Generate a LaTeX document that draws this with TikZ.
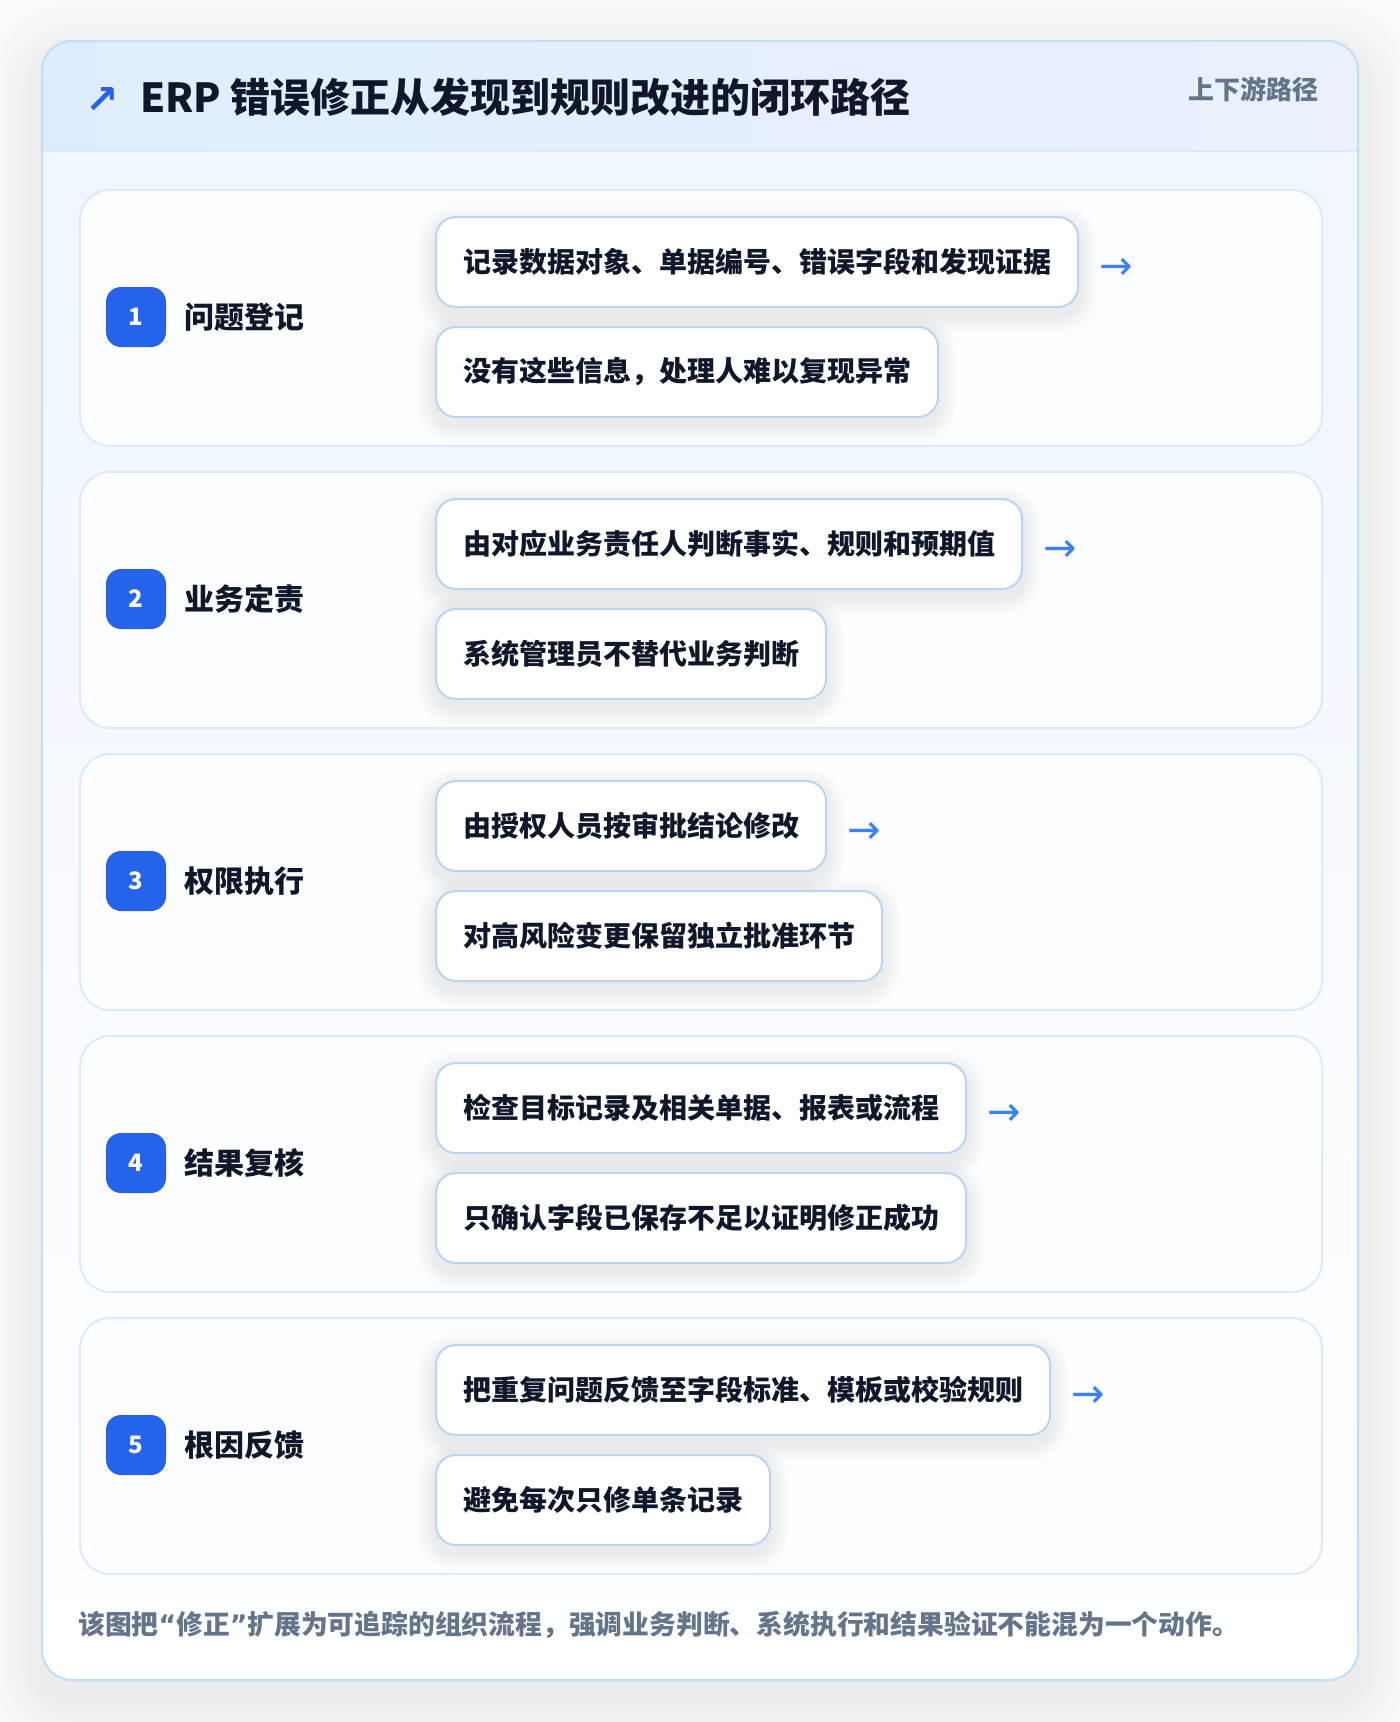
\documentclass[tikz,border=0pt]{standalone}
\usepackage{fontspec}
\setmainfont{Noto Sans CJK SC}
\newfontfamily\symf{DejaVu Sans}
\definecolor{ink}{RGB}{15,23,42}
\definecolor{muted}{RGB}{100,116,139}
\definecolor{brand}{RGB}{37,99,235}
\definecolor{arrowc}{RGB}{59,130,246}
\definecolor{outerbd}{RGB}{191,224,248}
\definecolor{cardbd}{RGB}{219,234,254}
\definecolor{boxbd}{RGB}{188,212,244}
\definecolor{headL}{RGB}{222,237,253}
\definecolor{headR}{RGB}{234,241,253}
\definecolor{bodytop}{RGB}{239,246,255}
\definecolor{cardfill}{RGB}{252,253,255}
\definecolor{pagebg}{RGB}{252,252,253}
\pgfdeclarelayer{bg}
\pgfdeclarelayer{shadow}
\pgfsetlayers{bg,shadow,main}
% soft shadow under a named node: #1 node, #2 corner radius, #3 drop, #4 steps, #5 step size, #6 opacity
\newcommand\softshade[6]{%
  \begin{pgfonlayer}{shadow}
  \foreach \s in {1,...,#4}{%
    \pgfmathsetmacro\spread{\s*#5}%
    \pgfmathsetmacro\rad{#2+\spread}%
    \fill[black, fill opacity=#6, rounded corners=\rad pt]
      ([xshift=-\spread pt, yshift=\spread pt-#3 pt]#1.north west) rectangle
      ([xshift=\spread pt, yshift=-\spread pt-#3 pt]#1.south east);
  }
  \end{pgfonlayer}}
\begin{document}
\begin{tikzpicture}[x=1pt,y=-1pt,
  stepcard/.style={draw=cardbd, line width=2pt, fill=cardfill, rounded corners=30pt,
    minimum width=1242pt, minimum height=256pt, anchor=north west, inner sep=0pt},
  badge/.style={fill=brand, rounded corners=15pt, minimum width=60pt, minimum height=60pt,
    inner sep=0pt, text=white, font=\fontsize{24}{28}\selectfont\bfseries},
  steplabel/.style={anchor=west, inner sep=0pt, text=ink, font=\fontsize{30}{36}\selectfont\bfseries},
  infobox/.style={draw=boxbd, line width=2pt, fill=white, rounded corners=20pt,
    minimum height=90pt, inner xsep=27pt, inner ysep=0pt, anchor=west, text=ink,
    font=\fontsize{28}{34}\selectfont\bfseries},
  nextarrow/.style={anchor=west, inner sep=0pt, text=arrowc, font=\symf\fontsize{40}{46}\selectfont}
]
\useasboundingbox (0,0) rectangle (1400,1722);
\begin{pgfonlayer}{bg}
\fill[pagebg] (0,0) rectangle (1400,1722);
% outer card shadow
\foreach \s in {1,...,16}{
  \pgfmathsetmacro\spread{\s*4}
  \pgfmathsetmacro\rad{30+\spread}
  \fill[black, fill opacity=0.0055, rounded corners=\rad pt]
    (42-\spread,41-\spread+18) rectangle (1358+\spread,1680+\spread+18);
}
\fill[white, rounded corners=30pt] (42,41) rectangle (1358,1680);
\begin{scope}
  \clip[rounded corners=30pt] (42,41) rectangle (1358,1680);
  \shade[left color=headL, right color=headR] (42,41) rectangle (1358,151);
  \shade[top color=bodytop, bottom color=white] (42,151) rectangle (1358,1680);
\end{scope}
\draw[cardbd, line width=2pt] (42,151) -- (1358,151);
\draw[outerbd, line width=2pt, rounded corners=30pt] (42,41) rectangle (1358,1680);
\end{pgfonlayer}

% header
\node[text=brand, inner sep=0pt, font=\symf\bfseries\fontsize{40}{44}\selectfont] (ticon) at (102,100) {↗};
\node[anchor=base west, inner sep=0pt, text=ink, font=\fontsize{40}{48}\selectfont\bfseries] (title) at (140,112)
  {ERP 错误修正从发现到规则改进的闭环路径};
\node[anchor=east, inner sep=0pt, text=muted, font=\fontsize{26}{30}\selectfont\bfseries] (sub) at (1319,89) {上下游路径};

% steps
\foreach \i/\lab/\ta/\tb in {
  1/问题登记/记录数据对象、单据编号、错误字段和发现证据/没有这些信息，处理人难以复现异常,
  2/业务定责/由对应业务责任人判断事实、规则和预期值/系统管理员不替代业务判断,
  3/权限执行/由授权人员按审批结论修改/对高风险变更保留独立批准环节,
  4/结果复核/检查目标记录及相关单据、报表或流程/只确认字段已保存不足以证明修正成功,
  5/根因反馈/把重复问题反馈至字段标准、模板或校验规则/避免每次只修单条记录}{
  \pgfmathsetmacro\T{189+282*(\i-1)}
  \begin{pgfonlayer}{bg}
  \node[stepcard] (card\i) at (79,\T) {};
  \end{pgfonlayer}
  \node[badge] (badge\i) at (136,\T+128) {\i};
  \node[steplabel] (label\i) at (184,\T+128) {\lab};
  \node[infobox] (boxa\i) at (435,\T+73) {\ta};
  \node[infobox] (boxb\i) at (435,\T+183) {\tb};
  \softshade{boxa\i}{20}{7}{9}{2}{0.007}
  \softshade{boxb\i}{20}{7}{9}{2}{0.007}
  \node[nextarrow] (arr\i) at ([xshift=20pt,yshift=-7pt]boxa\i.east) {→};
}

% footer
\node[anchor=west, inner sep=0pt, text=muted, font=\fontsize{26.8}{31}\selectfont\bfseries] (foot) at (78,1625)
  {该图把{\symf\bfseries “}修正{\symf\bfseries ”}扩展为可追踪的组织流程，强调业务判断、系统执行和结果验证不能混为一个动作。};
\end{tikzpicture}
\end{document}
